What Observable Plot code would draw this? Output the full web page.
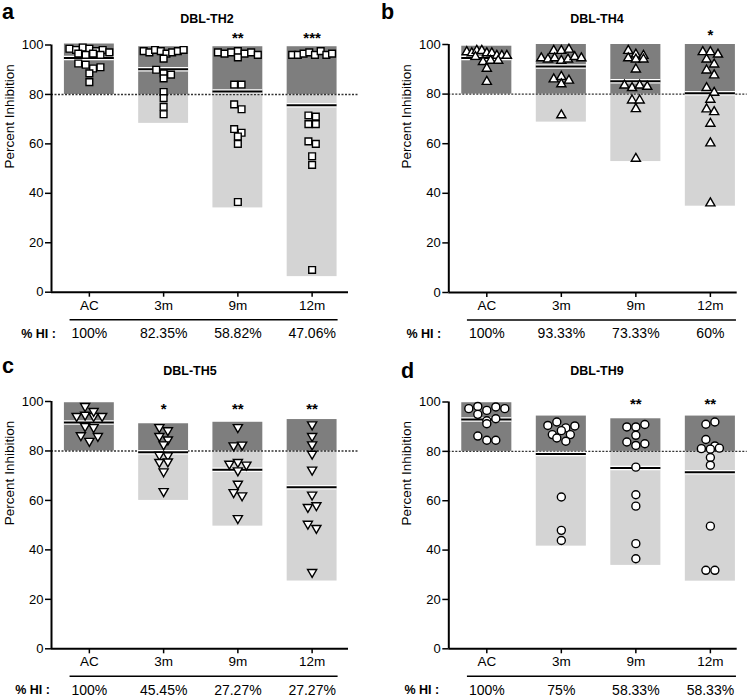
<!DOCTYPE html>
<html><head><meta charset="utf-8">
<script src="https://cdn.jsdelivr.net/npm/d3@7"></script>
<script src="https://cdn.jsdelivr.net/npm/@observablehq/plot@0.6"></script>
<style>
body{margin:0;background:#fff;font-family:Arial,"Liberation Sans",sans-serif;}
#wrap{position:relative;width:750px;height:697px;overflow:hidden;}
.panel{position:absolute;}
.panel svg{display:block;}
.overlay{position:absolute;left:0;top:0;pointer-events:none;}
</style></head><body><div id="wrap"></div>
<script>
// ---------- data ----------
const categories = ["AC", "3m", "9m", "12m"];

const th2Values = [
  [98.5, 98, 99, 98.5, 97.5, 98, 96.5, 96, 96.5, 96, 97, 92.5, 92, 90.5, 91, 88.5, 85],
  [97.5, 97, 98, 97.5, 96.5, 97, 97.5, 98, 94.5, 90, 88.5, 88, 86.5, 81, 78.5, 75, 72],
  [97, 96.5, 97, 97.5, 96.5, 97, 95, 96, 84, 84, 76, 74, 66, 64.5, 63, 60, 36.5],
  [96, 96, 96.5, 97, 96, 97.5, 96, 96.5, 71.5, 71, 68, 68, 61, 60, 55, 51.5, 9]
];
const th2Low = [82.5, 68.3, 34.1, 6.3];
const th2High = [100.4, 99.3, 99.3, 99.3];
const th2Stars = ["", "", "**", "***"];
const th2HI = ["100%", "82.35%", "58.82%", "47.06%"];

const th4Values = [
  [97, 96.5, 97.5, 97.5, 96.5, 96.5, 95.5, 95.5, 95, 95.5, 93, 93.5, 93.5, 90.3, 85],
  [97.5, 97.5, 98, 94.5, 94, 94.5, 93.5, 94, 95, 94.5, 86, 87, 84, 85.5, 71.5],
  [97.5, 96, 95.5, 94.5, 94, 94, 90, 83.5, 82.5, 83.5, 83, 77.5, 77.5, 74, 54],
  [97, 97, 96, 94, 92, 89.6, 87.6, 82.5, 80.6, 77.8, 73.9, 72.8, 68.1, 60.2, 36]
];
const th4Low = [82.5, 68.7, 52.8, 34.8];
const th4High = [99.3, 100, 100, 100];
const th4Stars = ["", "", "", "*"];
const th4HI = ["100%", "93.33%", "73.33%", "60%"];

const th5Values = [
  [98.1, 94.1, 94.6, 94.1, 96.1, 94.1, 90, 89.6, 86.3, 84, 86],
  [89.6, 88.3, 86, 84.6, 82.6, 78.4, 78.2, 75.5, 75.7, 71.7, 63.7],
  [89.6, 82.2, 82.5, 74.8, 75.5, 72.1, 74.4, 66.7, 63.3, 62, 52.8],
  [90.7, 86, 82.6, 78.8, 72.4, 62.3, 57.3, 58, 50.5, 48.8, 31]
];
const th5Low = [82, 60, 49.6, 27.4];
const th5High = [99.5, 91, 91.6, 92.7];
const th5Stars = ["", "*", "**", "**"];
const th5HI = ["100%", "45.45%", "27.27%", "27.27%"];

const th9Values = [
  [97.3, 98.2, 96.6, 98, 97.3, 95, 92.4, 91.2, 93.2, 86.2, 84.5, 84.5],
  [90.5, 91.9, 89.5, 90.3, 86.8, 88.4, 86.8, 85.4, 84.1, 61.5, 48, 43.9],
  [89.9, 89.9, 90.9, 86.5, 83.8, 82.4, 83.1, 73.6, 62.4, 57.8, 42.6, 36.5],
  [91, 91.9, 84.8, 81.1, 82.2, 80.9, 81.3, 77.5, 74.4, 49.7, 31.8, 31.8]
];
const th9Low = [82, 41.6, 33.8, 27.4];
const th9High = [99.7, 94.3, 93.2, 94.3];
const th9Stars = ["", "", "**", "**"];
const th9HI = ["100%", "75%", "58.33%", "58.33%"];

const threshold = 80;
const yTicks = [0, 20, 40, 60, 80, 100];

// ---------- symbols ----------
function triSymbol(down) {
  return {draw(ctx, size) {
    const s = Math.sqrt(size / (Math.sqrt(3) / 4));
    const h = s * Math.sqrt(3) / 2;
    const k = down ? -1 : 1;
    ctx.moveTo(0, -k * h * 2 / 3);
    ctx.lineTo(s / 2, k * h / 3);
    ctx.lineTo(-s / 2, k * h / 3);
    ctx.closePath();
  }};
}

// ---------- row-style scatter layout (px offsets), like a column scatter plot ----------
function rowLayout(vals, pxPerY, s, h, maxOff) {
  const order = d3.range(vals.length).sort((a, b) => vals[b] - vals[a]);
  const rows = [];
  for (const k of order) {
    const row = rows[rows.length - 1];
    if (row && (vals[row[0]] - vals[k]) * pxPerY < h) row.push(k);
    else rows.push([k]);
  }
  const off = new Array(vals.length).fill(0);
  for (const row of rows) {
    row.sort((a, b) => a - b); // keep reading order within a row
    const m = row.length;
    const step = Math.min(s, m > 1 ? 2 * maxOff / (m - 1) : s);
    row.forEach((k, j) => { off[k] = (j - (m - 1) / 2) * step; });
  }
  return off;
}

const FONT = "Arial, 'Liberation Sans', sans-serif";

function panel(cfg) {
  const {values, low, high, stars, hi, starLevel, symbol, r, sp, hp,
         width, height, ml, mr, mt, mb, dom, hiDx} = cfg;
  const pxPerX = (width - ml - mr) / (dom[1] - dom[0]);
  const pxPerY = (height - mt - mb) / 100;
  const hw = 0.336;
  const groups = categories.map((c, i) => ({
    i, low: low[i], high: high[i], mean: d3.mean(values[i]), star: stars[i], hi: hi[i]
  }));
  const points = values.flatMap((vals, i) => {
    const off = rowLayout(vals, pxPerY, sp, hp, hw * pxPerX - 5);
    return vals.map((v, k) => ({x: i + off[k] / pxPerX, v}));
  });
  const lightGroups = groups.filter(g => g.low < threshold);
  const n = categories.length;
  return Plot.plot({
    width, height,
    marginLeft: ml, marginRight: mr, marginTop: mt, marginBottom: mb,
    style: {fontFamily: FONT, color: "#000", background: "transparent", overflow: "visible"},
    x: {type: "linear", domain: dom},
    y: {domain: [0, 100]},
    marks: [
      Plot.rectY(lightGroups, {x1: d => d.i - hw, x2: d => d.i + hw, y1: "low", y2: threshold, fill: "#d4d4d4"}),
      Plot.rectY(groups, {x1: d => d.i - hw, x2: d => d.i + hw, y1: threshold, y2: "high", fill: "#7e7e7e"}),
      Plot.ruleY([threshold], {stroke: "#333", strokeWidth: 1.4, strokeDasharray: "2,1.5", insetRight: -10}),
      Plot.ruleY(groups, {y: "mean", x1: d => d.i - hw, x2: d => d.i + hw, stroke: "#fff", strokeWidth: 4.5}),
      Plot.ruleY(groups, {y: "mean", x1: d => d.i - hw, x2: d => d.i + hw, stroke: "#000", strokeWidth: 2}),
      Plot.dot(points, {x: "x", y: "v", symbol, r, fill: "#fff", stroke: "#000", strokeWidth: 1.4}),
      Plot.ruleX([dom[0]], {y1: 0, y2: 100, stroke: "#000", strokeWidth: 2}),
      Plot.ruleY([0], {stroke: "#000", strokeWidth: 2}),
      Plot.axisY({ticks: yTicks, tickSize: 6, tickPadding: 2, fontSize: 13, label: null, strokeWidth: 1.5}),
      Plot.axisX({ticks: d3.range(n), tickFormat: i => categories[i], tickSize: 5, tickPadding: 3, fontSize: 13.5, label: null, strokeWidth: 1.5}),
      Plot.text(["Percent Inhibition"], {frameAnchor: "left", rotate: -90, dx: -42, fontSize: 13.5}),
      Plot.text(groups.filter(g => g.star), {x: "i", y: starLevel, text: "star", fontSize: 15, fontWeight: "bold", dy: 4}),
      Plot.ruleY([0], {x1: -0.26, x2: n - 1 + 0.35, dy: 27.5, stroke: "#000", strokeWidth: 1.6}),
      Plot.text(groups, {x: "i", y: 0, text: "hi", dy: 41.5, fontSize: 14}),
      Plot.text(["% HI :"], {x: dom[0], y: 0, dy: 41.5, dx: hiDx, fontSize: 12.5, fontWeight: "bold"})
    ]
  });
}

const panels = [
  {left: 0, top: 0, letter: "a", lx: 2, ly: 19, title: "DBL-TH2", tx: 207, ty: 22.5,
   values: th2Values, low: th2Low, high: th2High, stars: th2Stars, hi: th2HI, starLevel: 104.5,
   symbol: "square", r: 3.8, sp: 7.4, hp: 5.5,
   width: 375, height: 345, ml: 51, mr: 27, mt: 44.5, mb: 53.3, dom: [-0.51, 3.49], hiDx: -13},
  {left: 375, top: 0, letter: "b", lx: 6, ly: 19, title: "DBL-TH4", tx: 222, ty: 22.5,
   values: th4Values, low: th4Low, high: th4High, stars: th4Stars, hi: th4HI, starLevel: 105.4,
   symbol: triSymbol(false), r: 3.4, sp: 7.6, hp: 5.5,
   width: 375, height: 345, ml: 73.3, mr: 13.3, mt: 44, mb: 53, dom: [-0.51, 3.36], hiDx: -25},
  {left: 0, top: 345, letter: "c", lx: 2, ly: 28, title: "DBL-TH5", tx: 190, ty: 29.5,
   values: th5Values, low: th5Low, high: th5High, stars: th5Stars, hi: th5HI, starLevel: 98.7,
   symbol: triSymbol(true), r: 3.4, sp: 8.5, hp: 6,
   width: 375, height: 352, ml: 51, mr: 27, mt: 56, mb: 48.7, dom: [-0.51, 3.49], hiDx: -19},
  {left: 375, top: 345, letter: "d", lx: 26, ly: 33, title: "DBL-TH9", tx: 222, ty: 29.5,
   values: th9Values, low: th9Low, high: th9High, stars: th9Stars, hi: th9HI, starLevel: 100.7,
   symbol: "circle", r: 4, sp: 9, hp: 6.5,
   width: 375, height: 352, ml: 73.3, mr: 13.3, mt: 56.5, mb: 48.7, dom: [-0.51, 3.36], hiDx: -27}
];

const wrap = document.getElementById("wrap");
for (const p of panels) {
  const div = document.createElement("div");
  div.className = "panel";
  div.style.left = p.left + "px";
  div.style.top = p.top + "px";
  div.style.width = p.width + "px";
  div.style.height = p.height + "px";
  div.appendChild(panel(p));
  const ov = d3.create("svg").attr("class", "overlay").attr("width", p.width).attr("height", p.height)
    .style("font-family", FONT);
  ov.append("text").attr("x", p.lx).attr("y", p.ly).attr("font-size", 21.5).attr("font-weight", "bold").text(p.letter);
  ov.append("text").attr("x", p.tx).attr("y", p.ty).attr("font-size", 12.5).attr("font-weight", "bold")
    .attr("text-anchor", "middle").text(p.title);
  div.appendChild(ov.node());
  wrap.appendChild(div);
}
</script>
</body></html>
